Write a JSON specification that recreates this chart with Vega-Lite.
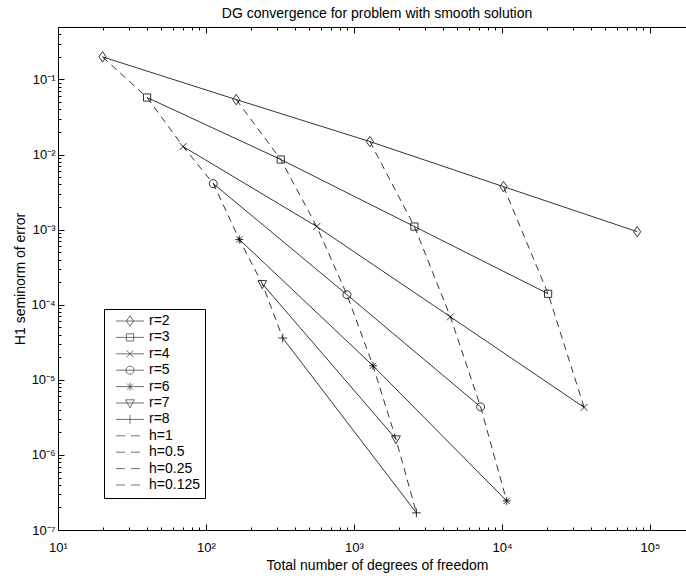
{
  "$schema": "https://vega.github.io/schema/vega-lite/v6.json",
  "width": 628,
  "height": 503,
  "autosize": {"type": "none"},
  "padding": {"left": 58, "top": 27, "right": 0, "bottom": 48},
  "background": "white",
  "config": {
    "view": {"stroke": null},
    "font": "Liberation Sans",
    "axis": {"grid": false, "domainColor": "black", "tickColor": "black", "labelColor": "black", "titleColor": "black", "labelFont": "Liberation Sans", "titleFont": "Liberation Sans", "titleFontWeight": "normal", "domainWidth": 1, "tickWidth": 1}
  },
  "title": {"text": "DG convergence for problem with smooth solution", "fontSize": 14, "fontWeight": "normal", "font": "Liberation Sans", "color": "black", "anchor": "middle", "baseline": "alphabetic", "offset": 10, "dx": 5, "dy": 15},
  "datasets": {
    "pts": [
      {"dof": 20, "err": 0.2, "r": "r=2", "h": "h=1"},
      {"dof": 160, "err": 0.054, "r": "r=2", "h": "h=0.5"},
      {"dof": 1280, "err": 0.0149, "r": "r=2", "h": "h=0.25"},
      {"dof": 10240, "err": 0.00374, "r": "r=2", "h": "h=0.125"},
      {"dof": 81920, "err": 0.00094, "r": "r=2", "h": "h=0.0625"},
      {"dof": 40, "err": 0.0575, "r": "r=3", "h": "h=1"},
      {"dof": 320, "err": 0.0086, "r": "r=3", "h": "h=0.5"},
      {"dof": 2560, "err": 0.0011, "r": "r=3", "h": "h=0.25"},
      {"dof": 20480, "err": 0.00014, "r": "r=3", "h": "h=0.125"},
      {"dof": 70, "err": 0.0128, "r": "r=4", "h": "h=1"},
      {"dof": 560, "err": 0.0011, "r": "r=4", "h": "h=0.5"},
      {"dof": 4480, "err": 0.000069, "r": "r=4", "h": "h=0.25"},
      {"dof": 35840, "err": 0.0000043, "r": "r=4", "h": "h=0.125"},
      {"dof": 112, "err": 0.0041, "r": "r=5", "h": "h=1"},
      {"dof": 896, "err": 0.000136, "r": "r=5", "h": "h=0.5"},
      {"dof": 7168, "err": 0.00000436, "r": "r=5", "h": "h=0.25"},
      {"dof": 168, "err": 0.00074, "r": "r=6", "h": "h=1"},
      {"dof": 1344, "err": 0.0000154, "r": "r=6", "h": "h=0.5"},
      {"dof": 10752, "err": 0.000000244, "r": "r=6", "h": "h=0.25"},
      {"dof": 240, "err": 0.00019, "r": "r=7", "h": "h=1"},
      {"dof": 1920, "err": 0.00000163, "r": "r=7", "h": "h=0.5"},
      {"dof": 330, "err": 0.000036, "r": "r=8", "h": "h=1"},
      {"dof": 2640, "err": 0.000000169, "r": "r=8", "h": "h=0.5"}
    ]
  },
  "resolve": {"axis": {"x": "independent", "y": "independent"}, "scale": {"shape": "independent"}},
  "layer": [
    {
      "data": {"name": "pts"},
      "mark": {"type": "line", "color": "black", "strokeWidth": 0.8},
      "encoding": {
        "x": {"field": "dof", "type": "quantitative", "scale": {"type": "log", "domain": [10, 175000], "nice": false},
          "axis": {"orient": "bottom", "values": [10, 100, 1000, 10000, 100000], "ticks": false, "domain": true, "labelFlush": false, "labelOverlap": false, "labelFontSize": 13, "labelPadding": 11, "labelExpr": "'10' + ['⁰','¹','²','³','⁴','⁵','⁶'][round(log(datum.value)/LN10)]", "title": "Total number of degrees of freedom", "titleFontSize": 14, "titleBaseline": "alphabetic", "titleY": 39, "titleX": 319}},
        "y": {"field": "err", "type": "quantitative", "scale": {"type": "log", "domain": [1e-7, 0.5], "nice": false},
          "axis": {"orient": "left", "values": [1e-7, 1e-6, 1e-5, 1e-4, 1e-3, 1e-2, 1e-1], "ticks": false, "domain": true, "labelFlush": false, "labelOverlap": false, "labelFontSize": 13, "labelPadding": 3, "labelExpr": "'10⁻' + ['⁰','¹','²','³','⁴','⁵','⁶','⁷','⁸'][round(-log(datum.value)/LN10)]", "title": "H1 seminorm of error", "titleFontSize": 14, "titleBaseline": "alphabetic", "titleX": -34}},
        "detail": {"field": "r", "type": "nominal"}
      }
    },
    {
      "data": {"name": "pts"},
      "mark": {"type": "line", "color": "black", "strokeWidth": 0.8, "strokeDash": [7, 5]},
      "encoding": {
        "x": {"field": "dof", "type": "quantitative", "scale": {"type": "log", "domain": [10, 175000], "nice": false},
          "axis": {"orient": "bottom", "values": [10, 100, 1000, 10000, 100000], "tickSize": -6, "labels": false, "domain": false, "title": null}},
        "y": {"field": "err", "type": "quantitative", "scale": {"type": "log", "domain": [1e-7, 0.5], "nice": false},
          "axis": {"orient": "left", "values": [1e-7, 1e-6, 1e-5, 1e-4, 1e-3, 1e-2, 1e-1], "tickSize": -6, "labels": false, "domain": false, "title": null}},
        "detail": {"field": "h", "type": "nominal"}
      }
    },
    {
      "data": {"name": "pts"},
      "mark": {"type": "point", "color": "black", "filled": false, "strokeWidth": 0.8, "size": 64, "opacity": 1},
      "encoding": {
        "x": {"field": "dof", "type": "quantitative", "scale": {"type": "log", "domain": [10, 175000], "nice": false},
          "axis": {"orient": "bottom", "values": [20, 30, 40, 50, 60, 70, 80, 90, 200, 300, 400, 500, 600, 700, 800, 900, 2000, 3000, 4000, 5000, 6000, 7000, 8000, 9000, 20000, 30000, 40000, 50000, 60000, 70000, 80000, 90000], "tickSize": -3, "labels": false, "domain": false, "title": null}},
        "y": {"field": "err", "type": "quantitative", "scale": {"type": "log", "domain": [1e-7, 0.5], "nice": false},
          "axis": {"orient": "left", "values": [2e-7, 3e-7, 4e-7, 5e-7, 6e-7, 7e-7, 8e-7, 9e-7, 2e-6, 3e-6, 4e-6, 5e-6, 6e-6, 7e-6, 8e-6, 9e-6, 2e-5, 3e-5, 4e-5, 5e-5, 6e-5, 7e-5, 8e-5, 9e-5, 2e-4, 3e-4, 4e-4, 5e-4, 6e-4, 7e-4, 8e-4, 9e-4, 2e-3, 3e-3, 4e-3, 5e-3, 6e-3, 7e-3, 8e-3, 9e-3, 2e-2, 3e-2, 4e-2, 5e-2, 6e-2, 7e-2, 8e-2, 9e-2, 0.2, 0.3, 0.4], "tickSize": -3, "labels": false, "domain": false, "title": null}},
        "shape": {"field": "r", "type": "nominal", "legend": null,
          "scale": {"domain": ["r=2", "r=3", "r=4", "r=5", "r=6", "r=7", "r=8"],
            "range": [
              "M0,-1.3L0.9,0L0,1.3L-0.9,0Z",
              "M-0.9,-0.9H0.9V0.9H-0.9Z",
              "M-0.85,-0.85L0.85,0.85M-0.85,0.85L0.85,-0.85",
              "M1,0C1,0.552 0.552,1 0,1C-0.552,1 -1,0.552 -1,0C-1,-0.552 -0.552,-1 0,-1C0.552,-1 1,-0.552 1,0Z",
              "M-1,0H1M0,-1V1M-0.75,-0.75L0.75,0.75M-0.75,0.75L0.75,-0.75",
              "M-1.1,-0.8H1.1L0,1.2Z",
              "M-1.1,0H1.1M0,-1.1V1.1"
            ]}}
      }
    },
    {
      "data": {"values": []},
      "mark": {"type": "point", "color": "black", "filled": false, "strokeWidth": 0.8, "size": 64},
      "encoding": {
        "x": {"field": "dof", "type": "quantitative", "scale": {"type": "log", "domain": [10, 175000], "nice": false},
          "axis": {"orient": "top", "values": [10, 100, 1000, 10000, 100000], "tickSize": -6, "labels": false, "domain": true, "title": null}},
        "y": {"field": "err", "type": "quantitative", "scale": {"type": "log", "domain": [1e-7, 0.5], "nice": false}, "axis": null},
        "shape": {"field": "series", "type": "nominal",
          "scale": {"domain": ["r=2", "r=3", "r=4", "r=5", "r=6", "r=7", "r=8", "h=1", "h=0.5", "h=0.25", "h=0.125"],
            "range": [
              "M-3.5,0H3.5M0,-1.3L0.9,0L0,1.3L-0.9,0Z",
              "M-3.5,0H3.5M-0.9,-0.9H0.9V0.9H-0.9Z",
              "M-3.5,0H3.5M-0.85,-0.85L0.85,0.85M-0.85,0.85L0.85,-0.85",
              "M-3.5,0H3.5M1,0C1,0.552 0.552,1 0,1C-0.552,1 -1,0.552 -1,0C-1,-0.552 -0.552,-1 0,-1C0.552,-1 1,-0.552 1,0Z",
              "M-3.5,0H3.5M0,-1V1M-0.75,-0.75L0.75,0.75M-0.75,0.75L0.75,-0.75",
              "M-3.5,0H3.5M-1.1,-0.8H1.1L0,1.2Z",
              "M-3.5,0H3.5M0,-1.1V1.1",
              "M-3.5,0H-1.26M0.25,0H2.49",
              "M-3.5,0H-1.26M0.25,0H2.49",
              "M-3.5,0H-1.26M0.25,0H2.49",
              "M-3.5,0H-1.26M0.25,0H2.49"
            ]},
          "legend": {"orient": "none", "legendX": 46, "legendY": 282, "title": null, "padding": 5, "symbolOffset": 14, "strokeColor": "black", "fillColor": "white", "cornerRadius": 0, "labelFontSize": 14, "labelFont": "Liberation Sans", "labelColor": "black", "labelOffset": 12, "rowPadding": 2.4, "symbolSize": 64, "symbolStrokeColor": "black", "symbolFillColor": "transparent", "symbolStrokeWidth": 0.8, "labelBaseline": "middle", "labelExpr": "datum.label + '  '"}}
      }
    },
    {
      "data": {"values": []},
      "mark": {"type": "point", "color": "black", "filled": false},
      "encoding": {
        "x": {"field": "dof", "type": "quantitative", "scale": {"type": "log", "domain": [10, 175000], "nice": false},
          "axis": {"orient": "top", "values": [20, 30, 40, 50, 60, 70, 80, 90, 200, 300, 400, 500, 600, 700, 800, 900, 2000, 3000, 4000, 5000, 6000, 7000, 8000, 9000, 20000, 30000, 40000, 50000, 60000, 70000, 80000, 90000], "tickSize": -3, "labels": false, "domain": false, "title": null}},
        "y": {"field": "err", "type": "quantitative", "scale": {"type": "log", "domain": [1e-7, 0.5], "nice": false}, "axis": null}
      }
    }
  ]
}
